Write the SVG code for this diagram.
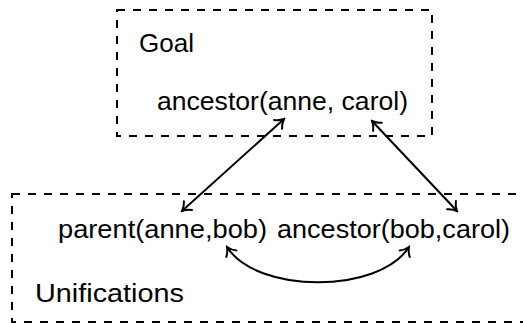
<svg xmlns="http://www.w3.org/2000/svg" width="523" height="323" viewBox="0 0 523 323">
<style>
.box{fill:none;stroke:#000;stroke-width:2;stroke-dasharray:8 8}
.lbl{font-family:"Liberation Sans",Arial,sans-serif;font-size:26px;fill:#000}
.con{fill:none;stroke:#000;stroke-width:2;marker-start:url(#tip);marker-end:url(#tip)}
</style>
<defs>
<marker id="tip" markerUnits="userSpaceOnUse" viewBox="-10 -8 12 16" markerWidth="12" markerHeight="16" refX="0" refY="0" orient="auto-start-reverse">
<path d="M -8 -6 C -5.5 -2.8, -1.7 -0.7, 0 0 C -1.7 0.7, -5.5 2.8, -8 6" fill="none" stroke="#000" stroke-width="2" stroke-linecap="round"/>
</marker>
</defs>
<rect width="523" height="323" fill="#fff"/>
<g id="goal">
<rect class="box" x="117" y="10" width="315" height="126"/>
<text class="lbl" x="139" y="52" textLength="55" lengthAdjust="spacingAndGlyphs">Goal</text>
<text class="lbl" x="157" y="110" textLength="251" lengthAdjust="spacingAndGlyphs">ancestor(anne, carol)</text>
</g>
<g id="unifications">
<rect class="box" x="12" y="194" width="530" height="128"/>
<text class="lbl" x="58" y="238" textLength="209" lengthAdjust="spacingAndGlyphs">parent(anne,bob)</text>
<text class="lbl" x="277" y="238" textLength="233" lengthAdjust="spacingAndGlyphs">ancestor(bob,carol)</text>
<text class="lbl" x="35" y="302" textLength="149" lengthAdjust="spacingAndGlyphs">Unifications</text>
</g>
<g id="connectors">
<path class="con" d="M 284 119 L 182 211"/>
<path class="con" d="M 372 121 L 457 211"/>
<path class="con" d="M 227 247 C 257 294, 379 294, 409 247"/>
</g>
</svg>
